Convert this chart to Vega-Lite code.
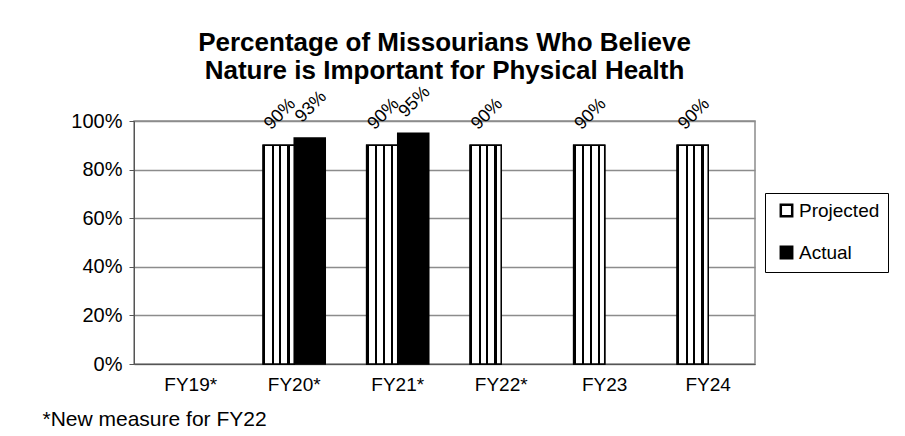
{
  "$schema": "https://vega.github.io/schema/vega-lite/v6.json",
  "width": 621,
  "height": 243,
  "autosize": "none",
  "padding": {"left": 134, "top": 121, "right": 150, "bottom": 72},
  "background": "white",
  "config": {
    "font": "Liberation Sans",
    "view": {"stroke": "#8c8c8c", "strokeWidth": 1.5}
  },
  "title": {
    "text": ["Percentage of Missourians Who Believe", "Nature is Important for Physical Health"],
    "fontSize": 26,
    "font": "Liberation Sans",
    "fontWeight": "bold",
    "color": "black",
    "anchor": "middle",
    "lineHeight": 28,
    "offset": -1
  },
  "data": {
    "values": [
      {"year": "FY20*", "type": "Projected", "value": 0.90},
      {"year": "FY20*", "type": "Actual", "value": 0.93},
      {"year": "FY21*", "type": "Projected", "value": 0.90},
      {"year": "FY21*", "type": "Actual", "value": 0.95},
      {"year": "FY22*", "type": "Projected", "value": 0.90},
      {"year": "FY23", "type": "Projected", "value": 0.90},
      {"year": "FY24", "type": "Projected", "value": 0.90}
    ]
  },
  "encoding": {
    "x": {
      "field": "year",
      "type": "nominal",
      "sort": null,
      "scale": {"domain": ["FY19*", "FY20*", "FY21*", "FY22*", "FY23", "FY24"], "paddingInner": 0.4, "paddingOuter": 0.2, "align": 0.62},
      "axis": {
        "labelAngle": 0,
        "labelFontSize": 19,
        "labelColor": "black",
        "labelPadding": 11,
        "ticks": false,
        "domainColor": "#555555",
        "title": "*New measure for FY22",
        "titleFontSize": 21,
        "titleFontWeight": "normal",
        "titleColor": "black",
        "titleAlign": "left",
        "titleAnchor": "start",
        "titleX": -92,
        "titleY": 55,
        "titleBaseline": "middle"
      }
    },
    "xOffset": {"field": "type", "type": "nominal", "scale": {"domain": ["Projected", "Actual"]}},
    "y": {
      "field": "value",
      "type": "quantitative",
      "scale": {"domain": [0, 1]},
      "axis": {
        "format": ".0%",
        "values": [0, 0.2, 0.4, 0.6, 0.8, 1],
        "labelFontSize": 20,
        "labelColor": "black",
        "labelPadding": 7,
        "tickSize": 5,
        "tickColor": "#555555",
        "domainColor": "#555555",
        "gridColor": "#8c8c8c",
        "gridWidth": 1.5,
        "title": null
      }
    }
  },
  "layer": [
    {
      "mark": {"type": "bar", "stroke": "black", "strokeWidth": 1.5},
      "encoding": {
        "fill": {
          "field": "type",
          "type": "nominal",
          "scale": {"domain": ["Projected", "Actual"], "range": ["white", "black"]},
          "legend": {
            "title": null,
            "orient": "none",
            "legendX": 631,
            "legendY": 72,
            "labelFontSize": 19,
            "labelColor": "black",
            "symbolType": "square",
            "symbolSize": 130,
            "symbolStrokeColor": "black",
            "symbolStrokeWidth": 2.5,
            "symbolOffset": 4,
            "rowPadding": 19,
            "strokeColor": "black",
            "padding": 8,
            "labelOffset": 3
          }
        }
      }
    },
    {
      "transform": [{"filter": "datum.type === 'Projected'"}],
      "mark": {
        "type": "bar",
        "stroke": "black",
        "strokeWidth": 1.5,
        "fill": {
          "gradient": "linear", "x1": 0, "x2": 1, "y1": 0, "y2": 0,
          "stops": [
            {"offset": 0, "color": "black"},
            {"offset": 0.07, "color": "black"},
            {"offset": 0.07, "color": "white"},
            {"offset": 0.27, "color": "white"},
            {"offset": 0.27, "color": "black"},
            {"offset": 0.34, "color": "black"},
            {"offset": 0.34, "color": "white"},
            {"offset": 0.52, "color": "white"},
            {"offset": 0.52, "color": "black"},
            {"offset": 0.59, "color": "black"},
            {"offset": 0.59, "color": "white"},
            {"offset": 0.78, "color": "white"},
            {"offset": 0.78, "color": "black"},
            {"offset": 0.85, "color": "black"},
            {"offset": 0.85, "color": "white"},
            {"offset": 1, "color": "white"}
          ]
        }
      },
      "encoding": {}
    },
    {
      "mark": {"type": "text", "angle": 315, "fontSize": 18, "align": "center", "baseline": "middle", "dx": 23, "dy": -21, "color": "black"},
      "encoding": {
        "text": {"field": "value", "type": "quantitative", "format": ".0%"}
      }
    }
  ]
}
